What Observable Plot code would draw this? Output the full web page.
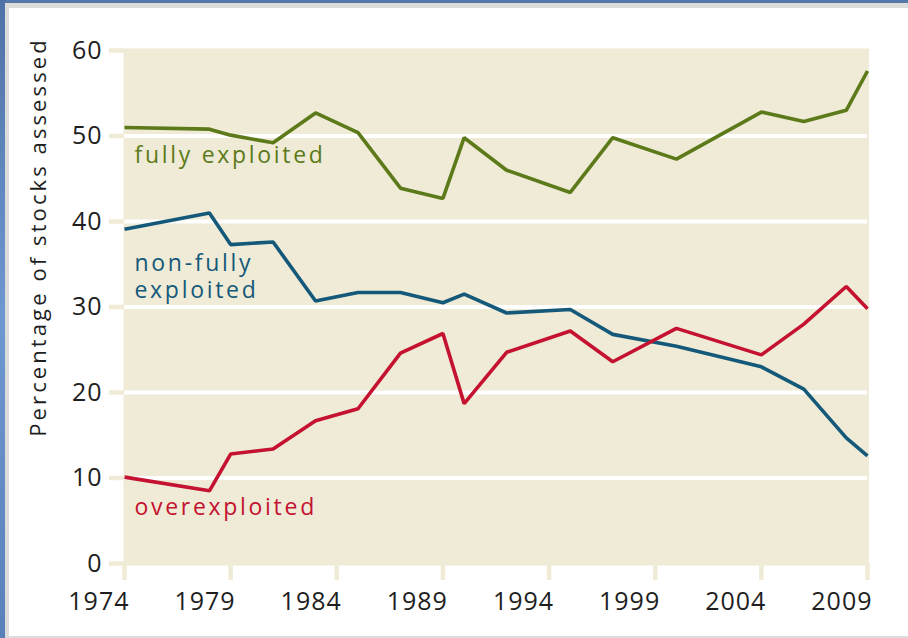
<!DOCTYPE html>
<html>
<head>
<meta charset="utf-8">
<script src="https://cdn.jsdelivr.net/npm/d3@7"></script>
<script src="https://cdn.jsdelivr.net/npm/@observablehq/plot@0.6"></script>
<style>
  html, body { margin: 0; padding: 0; background: #fff; }
  #win { position: relative; width: 908px; height: 638px; overflow: hidden; background: #fff; }
  #chart { position: absolute; left: 0; top: 0; }
  .bl { position: absolute; left: 0; top: 0; width: 5px; height: 638px; background: linear-gradient(#4e72a8, #6e98d0 50%, #5a80b8); z-index: 2; }
  .gl { position: absolute; left: 5px; top: 3px; width: 4px; height: 635px; background: #dcdcdc; z-index: 2; }
  .bt { position: absolute; left: 0; top: 0; width: 908px; height: 3px; background: #5576a8; z-index: 2; }
  .gt { position: absolute; left: 5px; top: 3px; width: 903px; height: 5px; background: #dcdcdc; z-index: 2; }
  .gb { position: absolute; left: 5px; top: 636px; width: 903px; height: 2px; background: #dcdcdc; z-index: 2; }
</style>
</head>
<body>
<div id="win">
  <div id="chart"></div>
  <div class="bt"></div><div class="gt"></div><div class="bl"></div><div class="gl"></div><div class="gb"></div>
</div>
<script>
// ---- data ----
const years = [1974, 1978, 1979, 1981, 1983, 1985, 1987, 1989, 1990, 1992, 1995, 1997, 2000, 2004, 2006, 2008, 2009];
const fullyExploited    = [51.0, 50.8, 50.1, 49.2, 52.7, 50.4, 43.9, 42.7, 49.8, 46.0, 43.4, 49.8, 47.3, 52.8, 51.7, 53.0, 57.6];
const nonFullyExploited = [39.1, 41.0, 37.3, 37.6, 30.7, 31.7, 31.7, 30.5, 31.5, 29.3, 29.7, 26.8, 25.4, 23.0, 20.4, 14.7, 12.6];
const overexploited     = [10.1,  8.5, 12.8, 13.4, 16.7, 18.1, 24.6, 26.9, 18.7, 24.7, 27.2, 23.6, 27.5, 24.4, 28.0, 32.4, 29.8];
const yTicks = [0, 10, 20, 30, 40, 50, 60];
const gridValues = [10, 20, 30, 40, 50];
const xTicks = [1974, 1979, 1984, 1989, 1994, 1999, 2004, 2009];
const yAxisTitle = "Percentage of stocks assessed";
const seriesNames = ["fully exploited", "non-fully\nexploited", "overexploited"];

const toRows = (vals) => years.map((year, i) => ({year, value: vals[i]}));

const BEIGE = "#efebd6";
const GREEN = "#5d7a1a";
const BLUE = "#15597a";
const RED = "#c41230";

const chart = Plot.plot({
  width: 908,
  height: 638,
  marginLeft: 124,
  marginRight: 41,
  marginTop: 50,
  marginBottom: 75,
  style: {fontFamily: "'Open Sans', sans-serif", color: "#1e1e1e", background: "transparent", overflow: "visible"},
  x: {domain: [1974, 2009]},
  y: {domain: [0, 60]},
  marks: [
    Plot.frame({fill: BEIGE, stroke: null, insetTop: -2, insetBottom: -2, insetLeft: -1, insetRight: -1.5}),
    Plot.ruleY(gridValues, {stroke: "#ffffff", strokeWidth: 4}),
    Plot.axisY({ticks: yTicks, tickSize: 15, tickPadding: 7, stroke: BEIGE, strokeWidth: 4.5, fontSize: 25, label: null, tickFormat: d => String(d)}),
    Plot.axisX({ticks: xTicks, tickSize: 17, stroke: BEIGE, strokeWidth: 4.5, label: null, tickFormat: () => ""}),
    Plot.axisX({ticks: xTicks, tickSize: 0, tickPadding: 29, fontSize: 25, textAnchor: "end", dx: 5, label: null, tickFormat: d => String(d)}),
    Plot.line(toRows(fullyExploited), {x: "year", y: "value", stroke: GREEN, strokeWidth: 3.6, strokeLinejoin: "miter", strokeLinecap: "butt"}),
    Plot.line(toRows(nonFullyExploited), {x: "year", y: "value", stroke: BLUE, strokeWidth: 3.6, strokeLinejoin: "miter", strokeLinecap: "butt"}),
    Plot.line(toRows(overexploited), {x: "year", y: "value", stroke: RED, strokeWidth: 3.6, strokeLinejoin: "miter", strokeLinecap: "butt"}),
    Plot.text([seriesNames[0]], {x: 1974, y: 46.9, dx: 10, textAnchor: "start", lineAnchor: "bottom", fill: GREEN, fontSize: 23}),
    Plot.text([seriesNames[1]], {x: 1974, y: 31.1, dx: 10, textAnchor: "start", lineAnchor: "bottom", lineHeight: 1.16, fill: BLUE, fontSize: 23}),
    Plot.text([seriesNames[2]], {x: 1974, y: 5.7, dx: 10, textAnchor: "start", lineAnchor: "bottom", fill: RED, fontSize: 23}),
    Plot.text([yAxisTitle], {frameAnchor: "left", rotate: -90, dx: -79, dy: -70, textAnchor: "middle", lineAnchor: "bottom", fill: "#1e1e1e", fontSize: 22, className: "ytitle"})
  ]
});

d3.select(chart).selectAll('g[aria-label="text"] text').attr("letter-spacing", "2.7px");
d3.select(chart).selectAll('g.ytitle text').attr("letter-spacing", "3.1px");
d3.select(chart).selectAll('g[aria-label="y-axis tick label"] text, g[aria-label="x-axis tick label"] text').attr("letter-spacing", "1px");
document.getElementById("chart").appendChild(chart);
</script>
</body>
</html>
